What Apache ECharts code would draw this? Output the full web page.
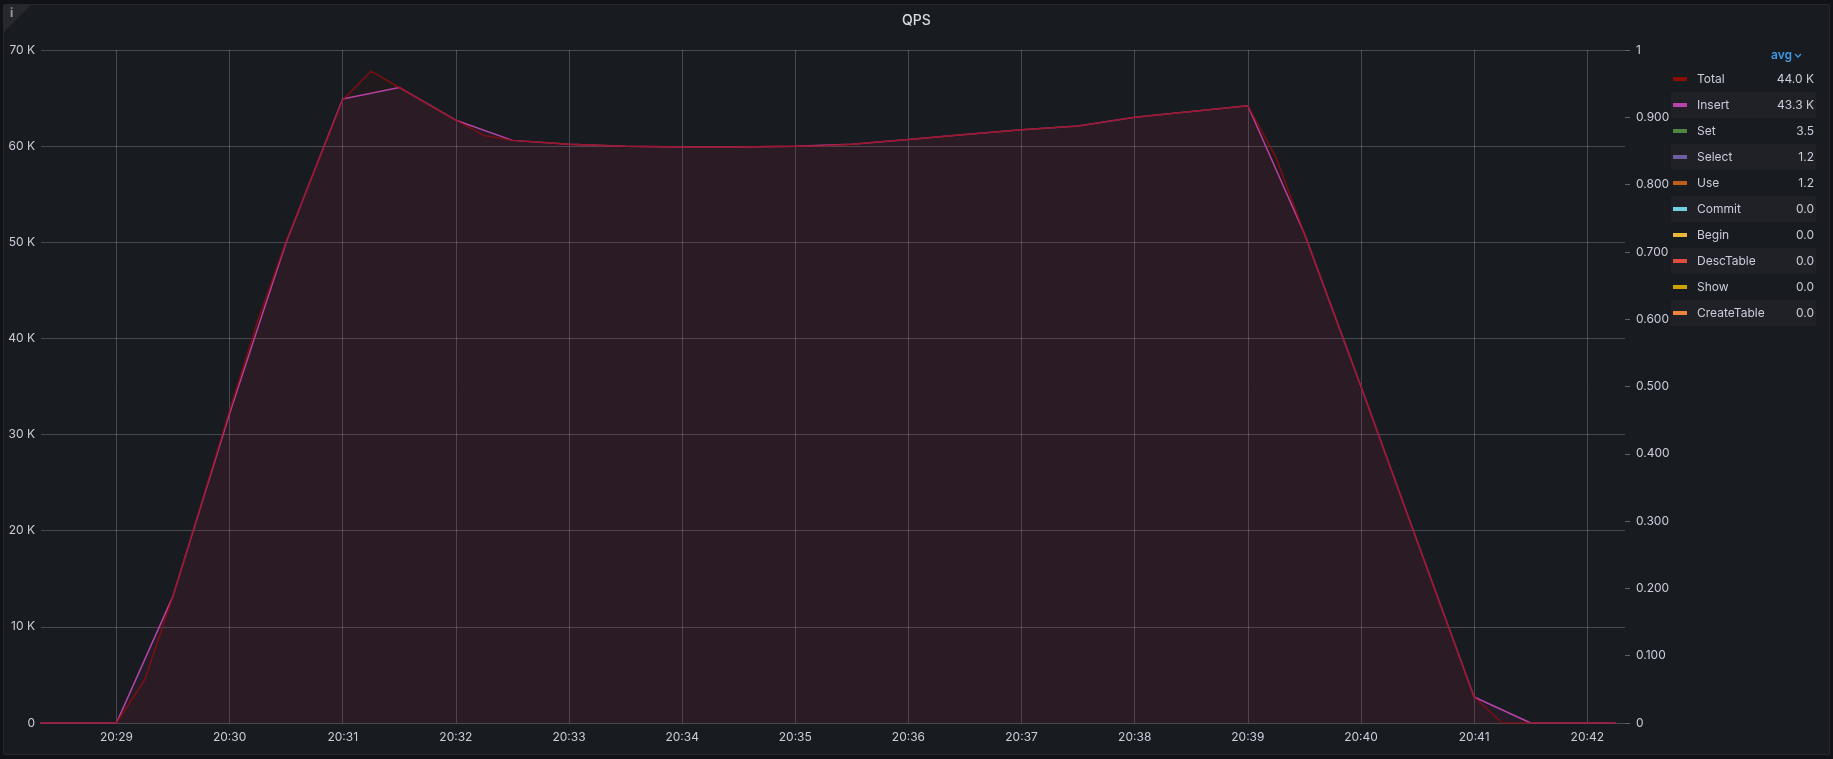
<!DOCTYPE html>
<html>
<head>
<meta charset="utf-8">
<script src="https://cdn.jsdelivr.net/npm/echarts@6/dist/echarts.min.js"></script>
<style>
html,body{margin:0;padding:0;background:#111217;width:1833px;height:759px;overflow:hidden;}
#panel{position:absolute;left:3px;top:4px;width:1825px;height:749px;background:#181b1f;border:1px solid #25272c;border-radius:2px;}
#chart{position:absolute;left:0;top:0;width:1833px;height:759px;}
</style>
</head>
<body>
<div id="panel"></div>
<div id="chart"></div>
<script>
// ---- data (values in K for main series) ----
const xTickLabels = ['20:29','20:30','20:31','20:32','20:33','20:34','20:35','20:36','20:37','20:38','20:39','20:40','20:41','20:42'];

const totalTimes = ['20:28:15','20:28:30','20:28:45','20:29:00','20:29:15','20:29:30','20:29:45','20:30:00','20:30:15','20:30:30','20:30:45','20:31:00','20:31:15','20:31:30','20:31:45','20:32:00','20:32:15','20:32:30','20:32:45','20:33:00','20:33:15','20:33:30','20:33:45','20:34:00','20:34:15','20:34:30','20:34:45','20:35:00','20:35:15','20:35:30','20:35:45','20:36:00','20:36:15','20:36:30','20:36:45','20:37:00','20:37:15','20:37:30','20:37:45','20:38:00','20:38:15','20:38:30','20:38:45','20:39:00','20:39:15','20:39:30','20:39:45','20:40:00','20:40:15','20:40:30','20:40:45','20:41:00','20:41:15','20:41:30','20:41:45','20:42:00','20:42:15'];
const totalValues = [0,0,0,0,4.5,13.2,22.8,32.5,41.9,50.1,57.4,64.8,67.8,66.1,64.4,62.7,61.1,60.6,60.4,60.2,60.1,60.0,59.95,59.9,59.9,59.9,59.95,60.0,60.05,60.2,60.45,60.7,60.95,61.2,61.45,61.7,61.9,62.1,62.55,63.0,63.3,63.6,63.9,64.2,58.8,50.9,43.0,35.0,26.9,18.8,10.7,2.7,0,0,0,0,0];

const insertTimes = ['20:28:15','20:28:30','20:29:00','20:29:30','20:30:00','20:30:30','20:31:00','20:31:30','20:32:00','20:32:30','20:33:00','20:33:30','20:34:00','20:34:30','20:35:00','20:35:30','20:36:00','20:36:30','20:37:00','20:37:30','20:38:00','20:38:30','20:39:00','20:39:30','20:40:00','20:40:30','20:41:00','20:41:30','20:42:00','20:42:15'];
const insertValues = [0,0,0,13.2,32.2,50.0,64.9,66.1,62.7,60.6,60.2,60.0,59.9,59.9,60.0,60.2,60.7,61.2,61.7,62.1,63.0,63.6,64.2,50.9,35.0,18.8,2.7,0,0,0];

const minorTimes = ['20:28:15','20:29:00','20:30:00','20:31:00','20:32:00','20:33:00','20:34:00','20:35:00','20:36:00','20:37:00','20:38:00','20:39:00','20:40:00','20:41:00','20:42:00','20:42:15'];
const setValues       = [0,0,0.004,0.004,0.003,0.004,0.004,0.003,0.004,0.004,0.004,0.003,0.004,0.003,0,0];
const selectValues    = [0,0,0.001,0.001,0.002,0.001,0.001,0.001,0.002,0.001,0.001,0.001,0.001,0.001,0,0];
const useValues       = [0,0,0.001,0.001,0.002,0.001,0.001,0.001,0.002,0.001,0.001,0.001,0.001,0.001,0,0];
const commitValues    = [0,0,0,0,0,0,0,0,0,0,0,0,0,0,0,0];
const beginValues     = [0,0,0,0,0,0,0,0,0,0,0,0,0,0,0,0];
const descTableValues = [0,0,0,0,0,0,0,0,0,0,0,0,0,0,0,0];
const showValues      = [0,0,0,0,0,0,0,0,0,0,0,0,0,0,0,0];
const createTableValues = [0,0,0,0,0,0,0,0,0,0,0,0,0,0,0,0];

const legendNames  = ['Total','Insert','Set','Select','Use','Commit','Begin','DescTable','Show','CreateTable'];
const legendAvg    = ['44.0 K','43.3 K','3.5','1.2','1.2','0.0','0.0','0.0','0.0','0.0'];
const legendColors = ['#890F02','#BA43A9','#508642','#705DA0','#C15C17','#6ED0E0','#EAB839','#E24D42','#CCA300','#EF843C'];

// ---- helpers ----
function toSec(t){ const p=t.split(':').map(Number); return (p[0]*3600+p[1]*60+(p[2]||0)) - (20*3600+29*60); }
function pairs(times, vals){ return times.map((t,i)=>[toSec(t), vals[i]]); }
const tickSecs = xTickLabels.map(toSec);
function secLabel(s){ const m = 20*60+29 + Math.round(s/60); const h=Math.floor(m/60), mm=m%60; return h+':' + (mm<10?'0':'')+mm; }

const minorSets = [setValues, selectValues, useValues, commitValues, beginValues, descTableValues, showValues, createTableValues];

const chart = echarts.init(document.getElementById('chart'), null, {renderer:'canvas'});
const FONT = 'Inter, Roboto, "Noto Sans", sans-serif';
const TXT = '#ccccdc';

const series = [];
minorSets.forEach((vals, i) => {
  series.push({
    name: legendNames[i+2], type:'line', yAxisIndex:0, symbol:'none', animation:false,
    color: legendColors[i+2],
    lineStyle:{width:1, color: legendColors[i+2], opacity:0},
    data: pairs(minorTimes, vals.map(v=>v*1000)), z:1
  });
});
series.push({
  name:'Insert', type:'line', symbol:'none', animation:false, color:'#BA43A9',
  lineStyle:{width:1.5, color:'#BA43A9'},
  areaStyle:{color:'rgba(186,67,169,0.09)'},
  data: pairs(insertTimes, insertValues.map(v=>v*1000)), z:3
});
series.push({
  name:'Total', type:'line', symbol:'none', animation:false, color:'#890F02',
  lineStyle:{width:1.5, color:'rgba(150,12,14,0.8)'},
  areaStyle:{color:'rgba(137,15,2,0.10)'},
  data: pairs(totalTimes, totalValues.map(v=>v*1000)), z:4
});

// legend row shading
const graphics = [];
for (let i=1;i<legendNames.length;i+=2){
  graphics.push({type:'rect', left:1671, top:66+26*i, shape:{width:145, height:26}, style:{fill:'#1f2126'}, z:-1, silent:true});
}
graphics.push({type:'polygon', shape:{points:[[4,5],[31,5],[4,32]]}, style:{fill:'#26282d'}, silent:true});
graphics.push({type:'text', left:10, top:7, style:{text:'i', fill:'#9a9ba3', font:'bold 12px '+FONT}, silent:true});
graphics.push({type:'text', left:1771, top:49, style:{text:'avg', fill:'#3f9ae6', font:'600 12px '+FONT}, silent:true});
graphics.push({type:'polyline', shape:{points:[[1795,54],[1798,57],[1801,54]]}, style:{stroke:'#3f9ae6', lineWidth:1.3, fill:null}, silent:true});

chart.setOption({
  backgroundColor:'transparent',
  animation:false,
  title:{text:'QPS', left:'center', top:9, textStyle:{color:'#d8d9e3', fontSize:14, fontWeight:500, fontFamily:FONT}},
  grid:{left:41, right:208, top:50, bottom:36, containLabel:false},
  legend:{
    orient:'vertical', left:1673, top:73, padding:0, itemGap:14,
    itemWidth:14, itemHeight:4, icon:'rect',
    data: legendNames,
    selectedMode:false,
    formatter: function(name){ const i = legendNames.indexOf(name); return '{n|'+name+'}{v|'+legendAvg[i]+'}'; },
    textStyle:{color:TXT, fontSize:12, fontFamily:FONT,
      rich:{ n:{width:80, padding:[0,0,0,5], color:TXT, fontSize:12, lineHeight:14, fontFamily:FONT},
             v:{width:37, align:'right', color:TXT, fontSize:12, lineHeight:14, fontFamily:FONT} }}
  },
  xAxis:{
    type:'value', min:-40, max:800,
    axisLine:{show:false},
    axisTick:{show:false, customValues: tickSecs},
    axisLabel:{customValues: tickSecs, color:TXT, fontSize:12, fontFamily:FONT, margin:8, formatter: secLabel},
    splitLine:{show:true, lineStyle:{color:'rgba(204,204,220,0.26)', width:1}}
  },
  yAxis:[
    {type:'value', min:0, max:70000, interval:10000, position:'left',
     axisLine:{show:false}, axisTick:{show:false},
     axisLabel:{color:TXT, fontSize:12, fontFamily:FONT, margin:6, formatter: v => v===0 ? '0' : (v/1000)+' K'},
     splitLine:{show:true, lineStyle:{color:'rgba(204,204,220,0.26)', width:1}}},
    {type:'value', min:0, max:1, interval:0.1, position:'right',
     axisLine:{show:false}, axisTick:{show:true, length:5, lineStyle:{color:'rgba(204,204,220,0.4)'}},
     axisLabel:{color:TXT, fontSize:12, fontFamily:FONT, margin:11, formatter: v => v===0 ? '0' : (Math.abs(v-1)<1e-9 ? '1' : v.toFixed(3))},
     splitLine:{show:false}}
  ],
  graphic: graphics,
  series: series
});
</script>
</body>
</html>
